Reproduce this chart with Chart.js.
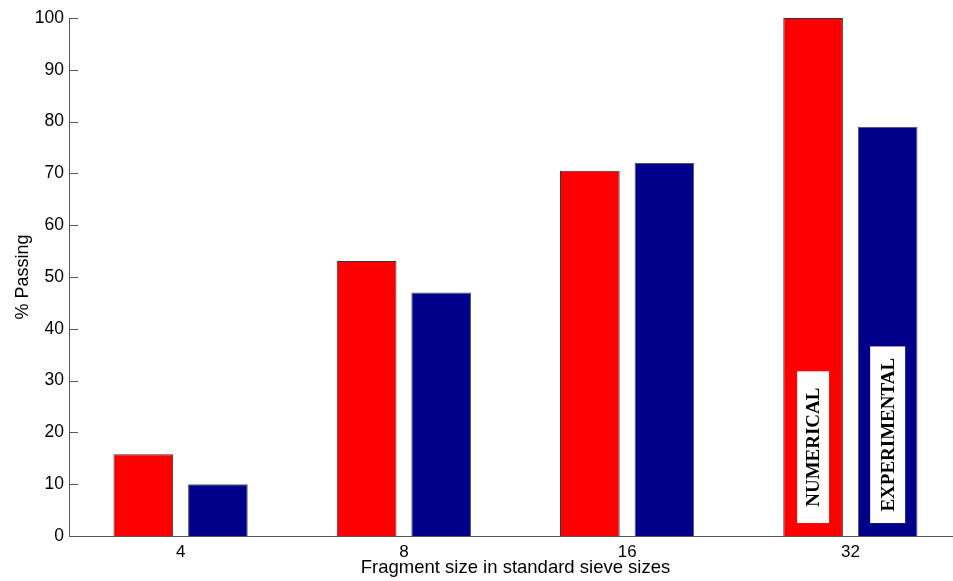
<!DOCTYPE html>
<html>
<head>
<meta charset="utf-8">
<script src="https://cdn.jsdelivr.net/npm/chart.js@4.4.0/dist/chart.umd.min.js"></script>
<style>
  html, body { margin: 0; padding: 0; background: #fff; overflow: hidden; }
  #wrap { width: 962px; height: 581px; }
</style>
</head>
<body>
<div id="wrap"><canvas id="chart"></canvas></div>
<script>
// sieve sizes and % passing
const sieveSizes = ['4', '8', '16', '32'];
const numerical = [15.8, 53.1, 70.5, 100];
const experimental = [10, 47, 72, 79];
const yTicks = [0, 10, 20, 30, 40, 50, 60, 70, 80, 90, 100];

// white label boxes inside the last pair of bars (value range of the box)
const boxLabels = ['NUMERICAL', 'EXPERIMENTAL'];
const boxTop = [31.8, 36.6];
const boxBottom = [2.5, 2.5];

const axisColor = '#555';
const textColor = '#000';

// inward tick marks on the y axis + rotated labels in boxes
const extras = {
  id: 'extras',
  afterDatasetsDraw(chart) {
    const ctx = chart.ctx;
    const y = chart.scales.y;
    const area = chart.chartArea;
    ctx.save();
    ctx.strokeStyle = axisColor;
    ctx.lineWidth = 1;
    yTicks.forEach(v => {
      const py = Math.round(y.getPixelForValue(v)) + 0.5;
      ctx.beginPath();
      ctx.moveTo(area.left, py);
      ctx.lineTo(area.left + 9, py);
      ctx.stroke();
    });
    const last = sieveSizes.length - 1;
    boxLabels.forEach((txt, i) => {
      const bar = chart.getDatasetMeta(i).data[last];
      const w = i === 0 ? 32 : 35;
      const top = y.getPixelForValue(boxTop[i]);
      const bot = y.getPixelForValue(boxBottom[i]);
      ctx.fillStyle = '#fff';
      ctx.fillRect(bar.x - w / 2, top, w, bot - top);
      ctx.save();
      ctx.translate(bar.x, (top + bot) / 2);
      ctx.rotate(-Math.PI / 2);
      ctx.fillStyle = '#000';
      ctx.font = 'bold 19px "Liberation Serif", "Times New Roman", serif';
      ctx.textAlign = 'center';
      ctx.textBaseline = 'middle';
      ctx.fillText(txt, 0, 1);
      ctx.restore();
    });
    ctx.restore();
  }
};

new Chart(document.getElementById('chart'), {
  type: 'bar',
  data: {
    labels: sieveSizes,
    datasets: [
      {
        label: 'NUMERICAL',
        data: numerical,
        backgroundColor: '#ff0000',
        borderColor: '#333',
        borderWidth: 1,
        categoryPercentage: 0.668,
        barPercentage: 0.8
      },
      {
        label: 'EXPERIMENTAL',
        data: experimental,
        backgroundColor: '#00008b',
        borderColor: '#555',
        borderWidth: 1,
        categoryPercentage: 0.668,
        barPercentage: 0.8
      }
    ]
  },
  options: {
    responsive: true,
    maintainAspectRatio: false,
    animation: false,
    layout: { padding: { top: 18, right: 0, left: 0, bottom: 0 } },
    plugins: {
      legend: { display: false },
      tooltip: { enabled: false }
    },
    scales: {
      x: {
        grid: { display: false, drawTicks: false },
        border: { color: axisColor, width: 1 },
        ticks: {
          color: textColor,
          padding: 6,
          font: { family: 'Arial, "Liberation Sans", sans-serif', size: 17 }
        },
        title: {
          display: true,
          text: 'Fragment size in standard sieve sizes',
          color: textColor,
          padding: { top: 0, bottom: 2 },
          font: { family: 'Arial, "Liberation Sans", sans-serif', size: 18.5 }
        },
        afterFit(scale) { scale.height = 45; }
      },
      y: {
        min: 0,
        max: 100,
        afterBuildTicks(scale) { scale.ticks = yTicks.map(v => ({ value: v })); },
        grid: { display: false, drawTicks: false },
        border: { color: axisColor, width: 1 },
        ticks: {
          color: textColor,
          padding: 5,
          font: { family: 'Arial, "Liberation Sans", sans-serif', size: 17.5 }
        },
        title: {
          display: true,
          text: '% Passing',
          color: textColor,
          padding: { top: 12, bottom: 0 },
          font: { family: 'Arial, "Liberation Sans", sans-serif', size: 18 }
        },
        afterFit(scale) { scale.width = 69; }
      }
    }
  },
  plugins: [extras]
});
</script>
</body>
</html>
